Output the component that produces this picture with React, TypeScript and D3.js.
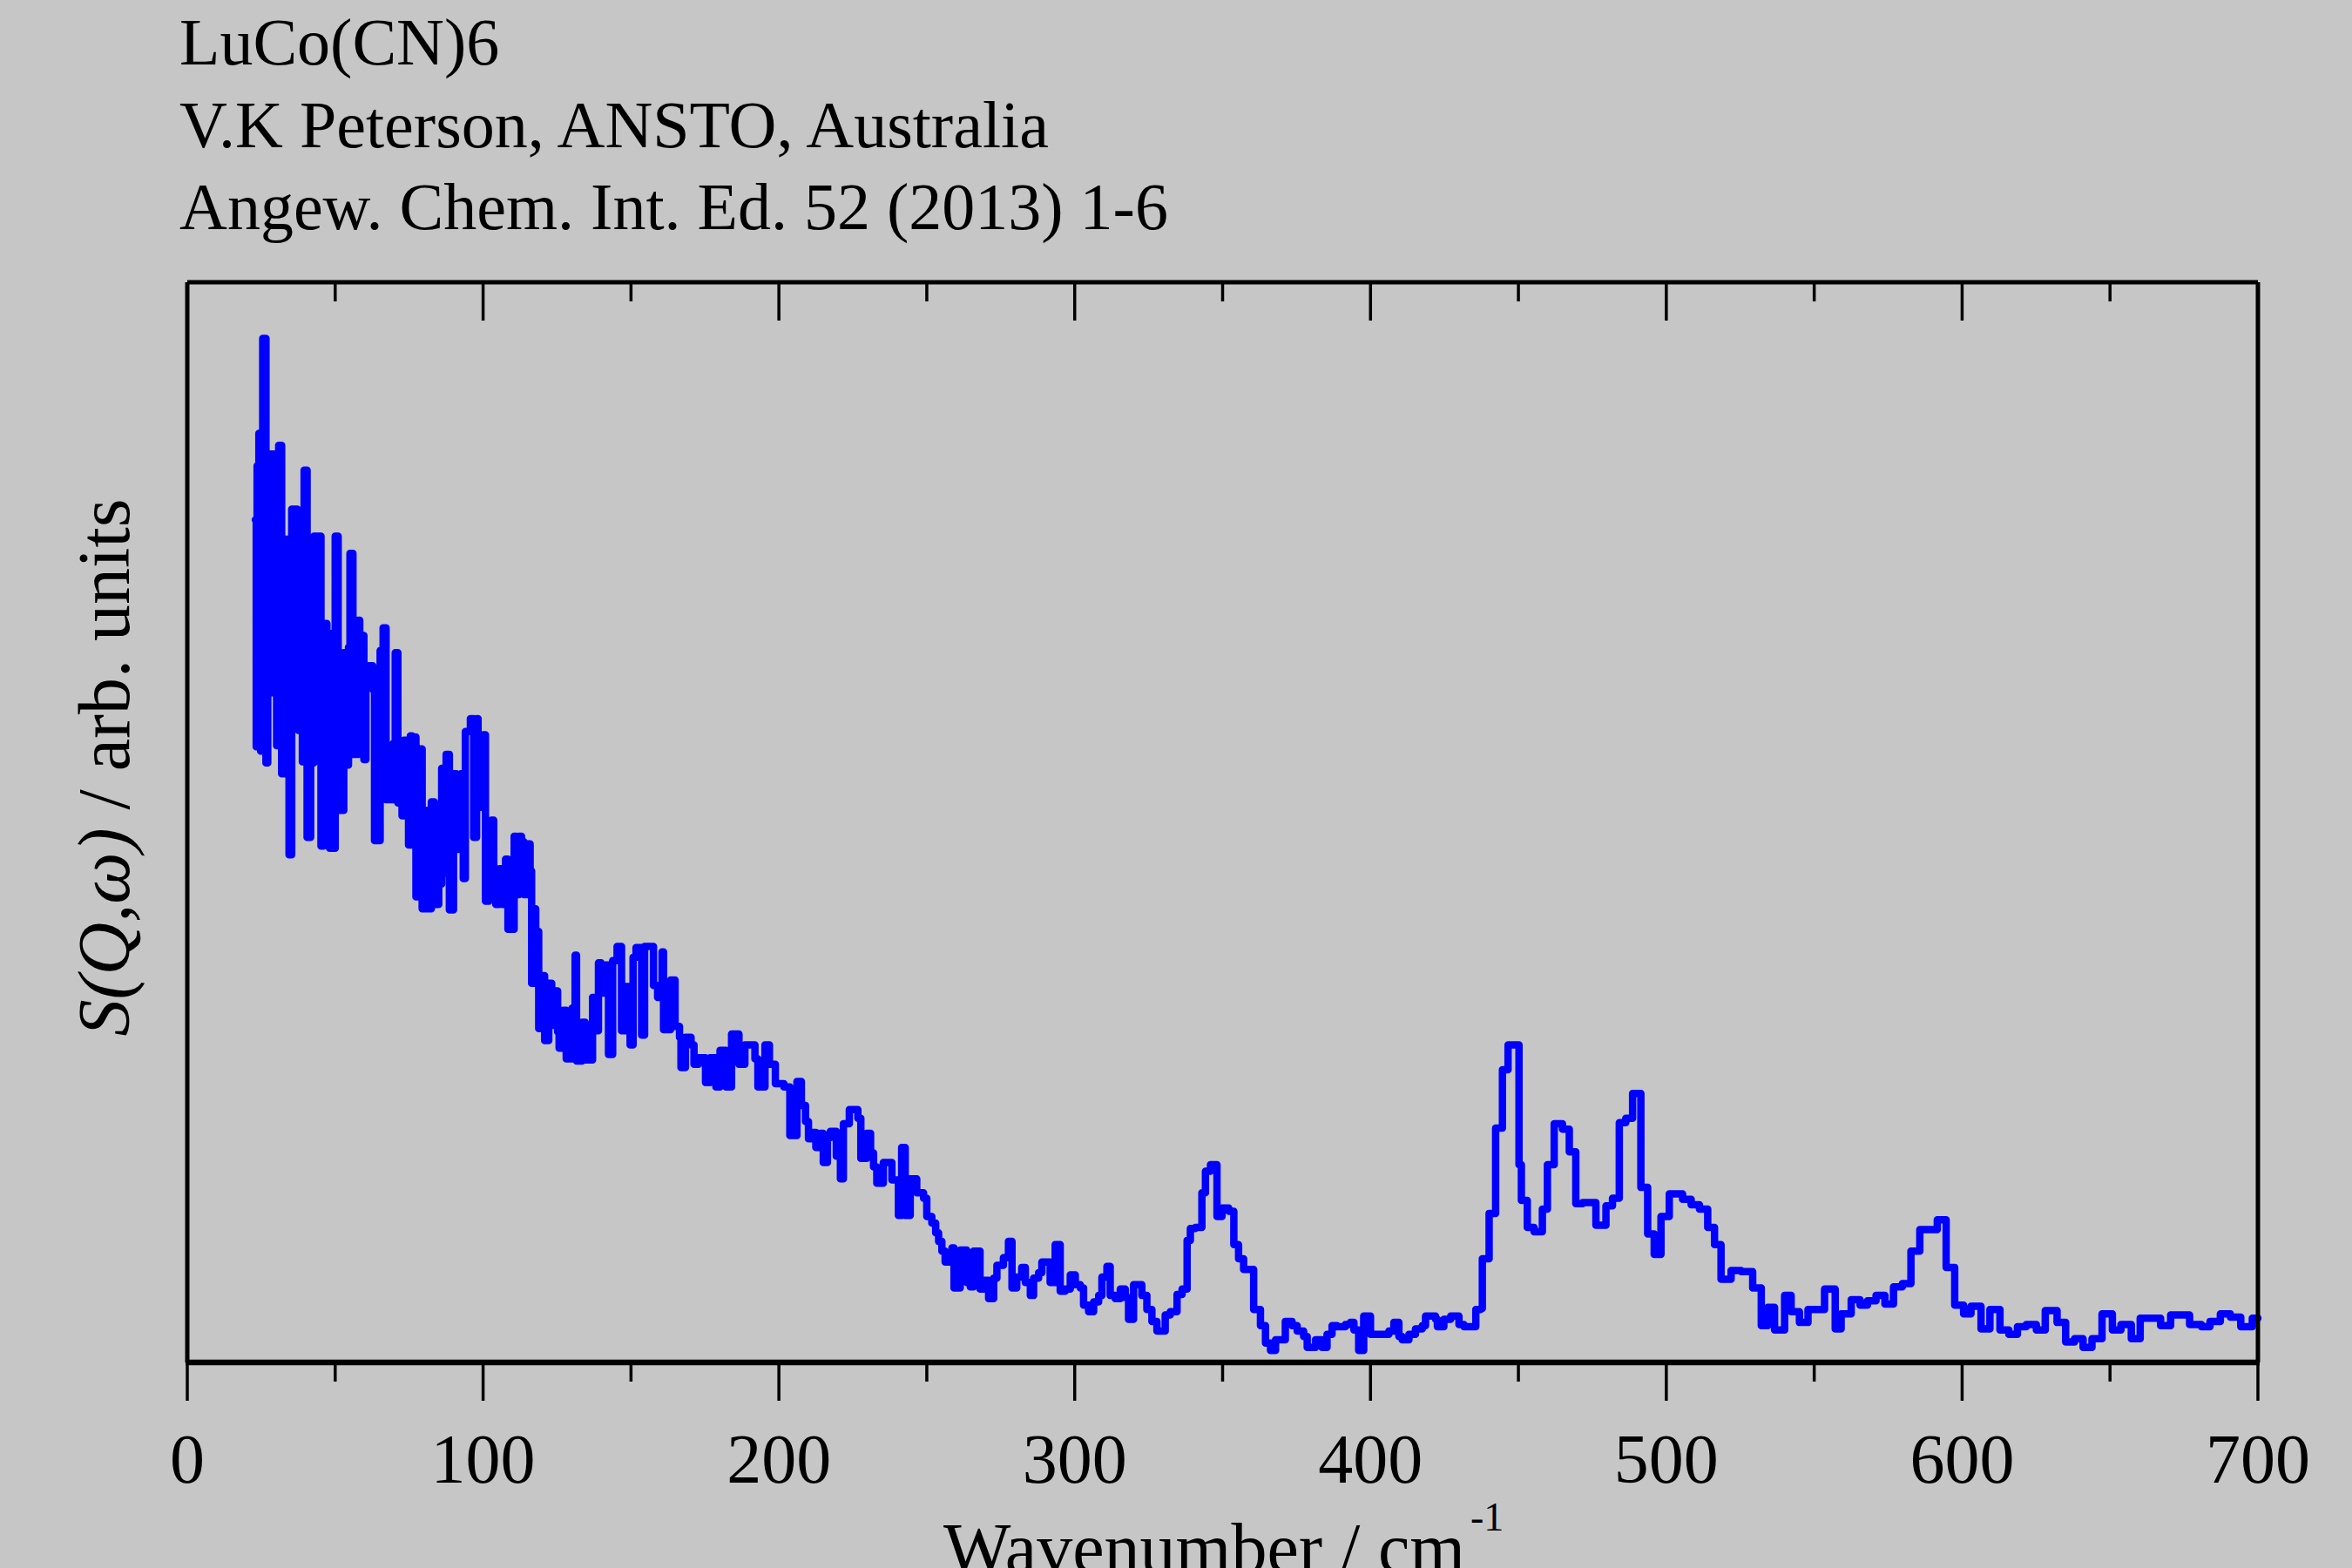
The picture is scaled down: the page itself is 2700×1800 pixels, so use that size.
import React from 'react';
import * as d3 from 'd3';

// Header lines above the plot
const headerLines = ['LuCo(CN)6', 'V.K Peterson, ANSTO, Australia', 'Angew. Chem. Int. Ed. 52 (2013) 1-6'];

// Axis ticks
const majorTicks = [0, 100, 200, 300, 400, 500, 600, 700];
const minorTicks = [50, 150, 250, 350, 450, 550, 650];

// Step data: bin start (cm-1) and S(Q,w) in arbitrary units
const wavenumber = [
  23.0, 23.3, 23.6, 24.0, 24.2, 24.8, 25.5, 26.6, 27.2, 28.0, 28.9, 29.3, 30.2, 30.9, 31.9, 33.4, 34.2, 34.4, 35.3, 37.2,
  37.6, 38.3, 38.9, 39.5, 40.5, 41.7, 42.2, 42.8, 43.8, 44.3, 45.2, 46.0, 47.2, 48.1, 50.0, 51.0, 52.9, 53.9, 54.5, 55.0,
  56.0, 57.8, 58.3, 58.9, 59.7, 60.4, 61.3, 62.7, 63.3, 65.2, 66.2, 67.2, 69.6, 70.3, 71.2, 72.6, 73.2, 74.8, 75.4, 76.0,
  76.6, 77.3, 78.6, 79.4, 81.0, 81.6, 82.5, 83.5, 85.0, 86.0, 86.6, 87.5, 88.6, 90.0, 91.0, 92.5, 93.3, 94.0, 95.7, 96.8,
  97.8, 98.3, 99.2, 100.0, 100.8, 102.0, 102.8, 103.6, 104.3, 105.5, 106.5, 107.6, 108.4, 110.5, 111.3, 112.2, 113.0, 113.8, 114.8, 115.9,
  116.4, 117.3, 117.8, 118.8, 119.8, 120.8, 122.2, 123.2, 124.2, 125.2, 125.7, 127.1, 128.1, 130.1, 131.1, 131.6, 133.5, 134.5, 137.0, 138.0,
  139.0, 139.9, 141.4, 142.4, 143.8, 145.3, 146.8, 148.2, 149.7, 150.7, 151.7, 153.6, 154.6, 157.6, 159.0, 160.5, 161.0, 163.4, 164.9, 166.4,
  166.9, 168.4, 170.3, 171.3, 172.8, 175.2, 176.7, 178.7, 180.1, 182.1, 184.0, 186.5, 188.5, 191.9, 192.9, 195.3, 196.8, 198.8, 201.7, 203.7,
  206.1, 207.6, 209.0, 210.0, 211.5, 212.5, 214.0, 215.0, 216.4, 217.4, 219.4, 220.8, 221.8, 223.8, 226.7, 227.7, 229.7, 231.0, 232.0, 233.1,
  235.3, 238.2, 240.4, 241.5, 242.7, 244.4, 246.6, 248.9, 250.0, 251.7, 253.0, 254.0, 255.1, 256.2, 258.5, 259.2, 261.3, 263.5, 264.7, 265.8,
  268.0, 269.2, 270.9, 272.6, 273.7, 275.9, 277.6, 278.8, 280.4, 282.1, 283.3, 285.0, 286.1, 287.8, 288.9, 291.7, 293.4, 295.1, 296.8, 298.5,
  300.2, 301.9, 303.0, 304.7, 306.4, 308.1, 309.2, 310.9, 312.0, 313.7, 315.4, 317.1, 318.2, 319.9, 322.7, 324.4, 326.1, 327.8, 330.6, 332.3,
  334.6, 336.3, 338.0, 339.1, 340.8, 343.0, 344.2, 345.9, 348.1, 349.8, 352.1, 353.8, 355.4, 357.1, 360.5, 362.8, 364.5, 366.2, 367.9, 371.2,
  373.5, 375.2, 377.4, 378.6, 381.4, 383.6, 385.3, 387.0, 388.7, 391.5, 393.2, 394.4, 396.0, 397.7, 400.0, 406.2, 407.9, 409.6, 410.7, 413.0,
  415.2, 417.5, 418.6, 422.0, 422.6, 424.8, 427.1, 429.9, 431.6, 435.6, 437.2, 437.8, 440.1, 442.3, 444.6, 446.5, 450.2, 451.0, 453.0, 455.3,
  458.1, 459.8, 462.1, 464.9, 467.2, 469.4, 471.7, 476.2, 479.6, 481.8, 484.1, 486.3, 488.6, 491.4, 493.7, 495.9, 498.2, 501.0, 505.5, 508.4,
  511.2, 514.0, 516.3, 518.5, 521.9, 525.3, 529.2, 532.1, 534.3, 536.6, 540.0, 542.2, 545.0, 547.9, 553.5, 557.1, 559.1, 562.5, 565.5, 568.0,
  570.9, 573.9, 576.8, 579.8, 582.7, 585.7, 591.6, 594.6, 597.5, 600.5, 603.0, 606.4, 609.4, 612.8, 615.8, 618.7, 621.7, 625.1, 628.1, 632.1,
  635.0, 638.0, 640.9, 643.9, 647.3, 650.8, 653.7, 657.2, 660.2, 667.1, 670.5, 676.9, 680.9, 683.8, 687.3, 690.7, 694.2, 698.1, 700.0,
];

const intensity = [
  78, 57, 83, 57, 86, 56.6, 94.8, 55.5, 62, 84.1, 62, 84.1, 57.1, 84.9, 54.5, 76.2, 72.4, 47.0, 79.0, 68.7,
  58.5, 75.7, 55.6, 82.6, 48.6, 72.4, 55.5, 76.5, 57.5, 76.5, 47.8, 68.4, 67.5, 47.6, 76.5, 51.1, 65.7, 55.3, 66.2, 74.9,
  56.3, 68.7, 57.1, 67.3, 55.8, 63.5, 64.5, 62.3, 48.3, 65.9, 68.0, 52.1, 57.3, 65.7, 51.8, 50.6, 57.6, 47.9, 58, 47.9,
  57.9, 43.1, 56.8, 42.0, 51.1, 42.0, 51.9, 42.4, 44.3, 55.0, 45.3, 56.3, 41.9, 54.5, 47.5, 54.5, 44.8, 58.4, 59.6, 48.6,
  59.6, 58.1, 51.4, 58.1, 42.7, 49.4, 50.2, 45.5, 42.4, 45.7, 42.4, 46.6, 40.1, 48.7, 43.3, 48.7, 48.2, 43.3, 48.0, 45.5,
  35.1, 42.0, 39.9, 30.9, 35.8, 29.8, 35.1, 31.2, 34.4, 30.6, 29.1, 32.6, 28.1, 32.8, 37.7, 27.9, 31.5, 28.0, 33.8, 30.7,
  37.0, 34.2, 36.8, 28.5, 37.2, 38.5, 30.7, 34.8, 29.4, 37.5, 38.4, 30.3, 38.5, 34.9, 33.8, 38.0, 30.8, 35.4, 31.1, 30.1,
  27.3, 30.1, 29.4, 27.6, 28.2, 25.9, 28.2, 25.5, 28.9, 25.5, 30.4, 27.6, 29.4, 28.1, 25.5, 29.4, 27.6, 25.8, 25.5, 21.0,
  26.0, 23.8, 22.3, 20.7, 21.3, 19.9, 21.2, 18.5, 20.8, 21.4, 19.1, 17.0, 22.1, 23.4, 22.6, 18.9, 21.2, 19.4, 18.1, 16.6,
  18.5, 16.9, 13.6, 19.9, 13.6, 17.0, 15.7, 15.2, 13.5, 12.9, 12.0, 11.2, 10.3, 9.3, 10.6, 6.9, 10.4, 7.4, 7.0, 10.3,
  6.8, 7.6, 5.9, 7.8, 9.0, 9.7, 11.2, 6.9, 7.9, 8.8, 7.4, 6.2, 7.8, 8.3, 9.3, 7.4, 10.9, 6.6, 6.8, 8.1,
  7.2, 6.9, 5.3, 4.7, 5.6, 6.2, 7.9, 8.9, 6.2, 5.9, 6.8, 6.0, 4.0, 7.2, 6.2, 4.9, 3.8, 2.9, 4.4, 4.7,
  6.3, 6.8, 11.3, 12.4, 12.5, 15.7, 17.7, 18.3, 13.5, 14.3, 14.0, 10.9, 9.6, 8.6, 4.9, 3.4, 1.8, 1.1, 2.1, 3.8,
  3.4, 2.9, 2.4, 1.4, 2.1, 1.4, 2.6, 3.4, 3.3, 3.5, 3.7, 3.0, 1.1, 4.3, 2.6, 2.9, 3.7, 2.4, 2.1, 2.6,
  3.1, 3.4, 4.3, 4.0, 3.3, 4.0, 4.3, 3.5, 3.3, 4.9, 5.0, 9.6, 13.8, 21.7, 27.1, 29.4, 18.3, 15.0, 12.5, 12.1,
  14.2, 18.3, 22.1, 21.6, 19.5, 14.7, 14.8, 12.7, 14.5, 15.2, 22.2, 22.6, 24.9, 16.2, 11.9, 10.0, 13.5, 15.6, 15.1, 14.6,
  14.2, 12.5, 10.9, 7.7, 8.5, 8.4, 6.9, 3.4, 5.1, 3.0, 6.2, 4.7, 3.7, 4.9, 6.8, 3.1, 4.5, 5.8, 5.3, 5.7,
  6.2, 5.4, 7.0, 7.3, 10.3, 12.3, 13.2, 8.8, 5.3, 4.5, 5.2, 3.1, 4.9, 3.0, 2.6, 3.3, 3.5, 3.0, 4.8, 3.7,
  1.9, 2.2, 1.4, 2.2, 4.5, 3.0, 3.5, 2.2, 4.1, 3.4, 4.4, 3.5, 3.3, 3.8, 4.5, 4.2, 3.3, 4.1, 4.1,
];

const W = 2700;
const H = 1800;
const margin = { top: 324, right: 108, bottom: 236, left: 215 };
const FONT = "'Liberation Serif', 'Times New Roman', serif";

export default function App() {
  const x = d3.scaleLinear().domain([0, 700]).range([margin.left, W - margin.right]);
  const y = d3.scaleLinear().domain([0, 100]).range([H - margin.bottom, margin.top]);

  const points: [number, number][] = wavenumber.map((w, i) => [w, intensity[i]]);
  const path = d3
    .line<[number, number]>()
    .x(d => x(d[0]))
    .y(d => y(d[1]))
    .curve(d3.curveStepAfter)(points);

  const left = margin.left;
  const right = W - margin.right;
  const top = margin.top;
  const bottom = H - margin.bottom;

  return (
    <svg
      width={W}
      height={H}
      style={{ position: 'absolute', left: 0, top: 0, background: '#c6c6c6' }}
      fontFamily={FONT}
    >
      <rect x={0} y={0} width={W} height={H} fill="#c6c6c6" />

      {/* header */}
      {headerLines.map((t, i) => (
        <text key={t} x={206} y={74 + i * 94.5} fontSize={76} fill="#000">
          {t}
        </text>
      ))}

      {/* data */}
      <path d={path || ''} fill="none" stroke="#0000ff" strokeWidth={8.5} strokeLinejoin="round" strokeLinecap="round" />

      {/* frame */}
      <line x1={left} x2={right} y1={top} y2={top} stroke="#000" strokeWidth={5} />
      <line x1={left} x2={left} y1={top} y2={bottom} stroke="#000" strokeWidth={5} />
      <line x1={right} x2={right} y1={top} y2={bottom} stroke="#000" strokeWidth={5} />
      <line x1={left - 2} x2={right + 2} y1={bottom} y2={bottom} stroke="#000" strokeWidth={6.5} />

      {/* ticks */}
      {majorTicks.map(t => (
        <g key={'M' + t}>
          <line x1={x(t)} x2={x(t)} y1={bottom} y2={bottom + 44} stroke="#000" strokeWidth={3.5} />
          <line x1={x(t)} x2={x(t)} y1={top} y2={top + 44} stroke="#000" strokeWidth={3.5} />
          <text x={x(t)} y={1702} fontSize={80} textAnchor="middle" fill="#000">
            {t}
          </text>
        </g>
      ))}
      {minorTicks.map(t => (
        <g key={'m' + t}>
          <line x1={x(t)} x2={x(t)} y1={bottom} y2={bottom + 22} stroke="#000" strokeWidth={3.5} />
          <line x1={x(t)} x2={x(t)} y1={top} y2={top + 22} stroke="#000" strokeWidth={3.5} />
        </g>
      ))}

      {/* axis titles */}
      <text x={1083} y={1805} fontSize={82} fill="#000">
        Wavenumber / cm
      </text>
      <text x={1688} y={1757} fontSize={46} fill="#000">
        -1
      </text>
      <text transform="translate(148,881) rotate(-90)" fontSize={84} textAnchor="middle" fill="#000">
        <tspan fontStyle="italic">S(Q,ω)</tspan>
        <tspan> / arb. units</tspan>
      </text>
    </svg>
  );
}
